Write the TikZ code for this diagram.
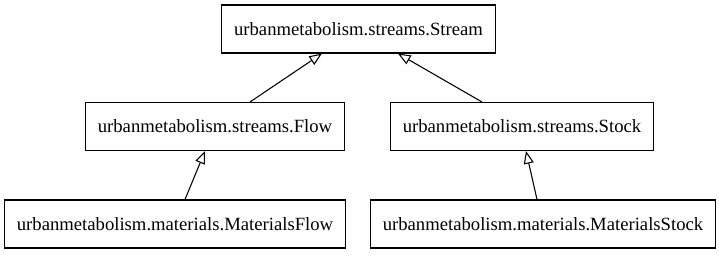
\documentclass[tikz,border=0pt]{standalone}
\usepackage{fontspec}
\setmainfont{Liberation Serif}
\usetikzlibrary{arrows.meta}

\begin{document}
\begin{tikzpicture}[x=0.75pt, y=-0.75pt,
    cls/.style={draw, line width=0.8pt, inner xsep=9.4pt, minimum height=36pt,
        font=\fontsize{14}{16.8}\selectfont},
    inherit/.style={line width=0.8pt, -{Triangle[open, length=9.5pt, width=7.5pt, line width=0.8pt]}}]
    \useasboundingbox (0,0) rectangle (719,255);
    % classes, one row per level
    \node[cls] (stream) at (358.5,29) {urbanmetabolism.streams.Stream};
    \node[cls] (flow) at (215,126.5) {urbanmetabolism.streams.Flow};
    \node[cls] (stock) at (522,126.5) {urbanmetabolism.streams.Stock};
    \node[cls] (mflow) at (175,224) {urbanmetabolism.materials.MaterialsFlow};
    \node[cls] (mstock) at (543,224) {urbanmetabolism.materials.MaterialsStock};
    % subclass -> base class
    \draw[inherit]([xshift=26.25pt]flow.north)--([xshift=-27.4pt]stream.south);
    \draw[inherit]([xshift=-30pt]stock.north)--([xshift=29.6pt]stream.south);
    \draw[inherit]([xshift=7.5pt]mflow.north)--([xshift=-7.5pt]flow.south);
    \draw[inherit]([xshift=-4.5pt]mstock.north)--([xshift=3pt]stock.south);
\end{tikzpicture}
\end{document}
